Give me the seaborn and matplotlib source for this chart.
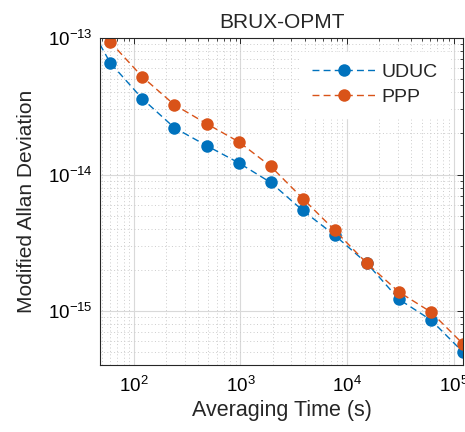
import numpy as np
import pandas as pd
import matplotlib
matplotlib.use("Agg")
import matplotlib.pyplot as plt
import seaborn as sns
from matplotlib.ticker import LogLocator, NullFormatter

# ---- data ----
tau = [30, 60, 120, 240, 480, 960, 1920, 3840, 7680, 15360, 30720, 61440, 122880]
uduc = [1.73e-13, 6.57e-14, 3.59e-14, 2.20e-14, 1.63e-14, 1.22e-14, 8.75e-15,
        5.46e-15, 3.59e-15, 2.24e-15, 1.22e-15, 8.6e-16, 5.0e-16]
ppp = [1.6e-13, 9.35e-14, 5.19e-14, 3.24e-14, 2.36e-14, 1.74e-14, 1.15e-14,
       6.68e-15, 3.90e-15, 2.24e-15, 1.38e-15, 9.84e-16, 5.74e-16]
series = ["UDUC", "PPP"]
colors = ["#0072BD", "#D95319"]
title = "BRUX-OPMT"
xlabel = "Averaging Time (s)"
ylabel = "Modified Allan Deviation"

df = pd.DataFrame({
    "tau": tau * 2,
    "adev": uduc + ppp,
    "series": [series[0]] * len(tau) + [series[1]] * len(tau),
})

sns.set_theme(style="white")
plt.rcParams["font.family"] = ["Liberation Sans", "DejaVu Sans"]
plt.rcParams["mathtext.fontset"] = "custom"
plt.rcParams["mathtext.rm"] = "Liberation Sans"
plt.rcParams["mathtext.it"] = "Liberation Sans:italic"
plt.rcParams["mathtext.bf"] = "Liberation Sans:bold"

fig = plt.figure(figsize=(4.65, 4.32), dpi=100)
ax = fig.add_axes([0.215, 0.155, 0.781, 0.757])

for name, c in zip(series, colors):
    sub = df[df["series"] == name]
    sns.lineplot(data=sub, x="tau", y="adev", ax=ax, color=c, label=name,
                 linestyle=(0, (5, 3)), linewidth=1.0, marker="o",
                 markersize=9, markeredgewidth=0, markerfacecolor=c,
                 estimator=None, sort=False)

ax.set_xscale("log")
ax.set_yscale("log")
ax.set_xlim(48, 122880)
ax.set_ylim(4.03e-16, 1e-13)

ax.xaxis.set_major_locator(LogLocator(base=10, numticks=10))
ax.yaxis.set_major_locator(LogLocator(base=10, numticks=10))
ax.xaxis.set_minor_locator(LogLocator(base=10, subs=np.arange(2, 10), numticks=20))
ax.yaxis.set_minor_locator(LogLocator(base=10, subs=np.arange(2, 10), numticks=20))
ax.xaxis.set_minor_formatter(NullFormatter())
ax.yaxis.set_minor_formatter(NullFormatter())

ax.grid(True, which="major", color="#d9d9d9", linewidth=0.8, linestyle="-")
ax.grid(True, which="minor", color="#cccccc", linewidth=0.7, linestyle=(0, (1, 2.5)))
ax.set_axisbelow(True)

ax.tick_params(which="both", direction="in", top=True, right=True,
               colors="#262626", labelcolor="black")
ax.tick_params(which="major", length=4, width=0.7, labelsize=13.5, pad=5)
ax.tick_params(axis="x", which="major", pad=8)
ax.tick_params(which="minor", length=2.5, width=0.6)
for s in ax.spines.values():
    s.set_color("#262626")
    s.set_linewidth(0.8)

ax.set_title(title, fontsize=15, pad=7)
ax.set_xlabel(xlabel, fontsize=15.5, labelpad=3)
ax.set_ylabel(ylabel, fontsize=15, labelpad=9)

leg = ax.legend(loc="upper right", fontsize=14, frameon=True, handlelength=3.3,
                borderaxespad=0.9, labelspacing=0.4, handletextpad=0.3)
leg.get_frame().set_edgecolor("white")
leg.get_frame().set_facecolor("white")
leg.get_frame().set_alpha(1)
leg.get_frame().set_boxstyle("square", pad=0.2)

fig.savefig("out.png", dpi=100)
